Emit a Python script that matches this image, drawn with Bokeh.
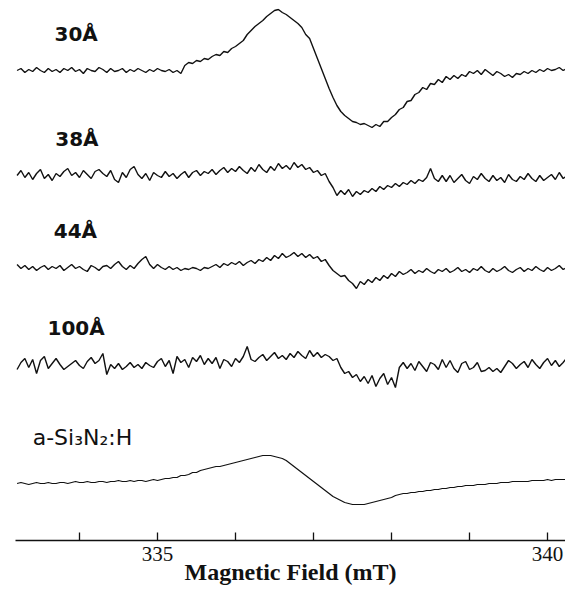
import numpy as np
from bokeh.plotting import figure
from bokeh.models import Range1d, FixedTicker, Label
from bokeh.embed import file_html
from bokeh.resources import INLINE

# ---- data (signal deviation from each trace's baseline, arbitrary units) ----
FIELD_START = 333.20   # mT
FIELD_STEP = 0.05      # mT sampling

labels = ["30Å", "38Å", "44Å", "100Å", "a-Si₃N₂:H"]
baselines = [470, 365, 273, 175, 58]

t30 = [0, 2, -2, 1, -1, 3, 0, -2, 2, -1,
       1, -2, 2, 0, 3, -1, 1, -3, 2, 0,
       -1, 3, 1, -2, 2, -1, 0, 2, -2, 1,
       -1, 2, 0, -2, 1, -1, 2, 0, -1, 1,
       -2, 0, -3, 5, 8, 7, 10, 9, 12, 11,
       14, 16, 15, 19, 18, 22, 24, 27, 30, 36,
       40, 44, 47, 50, 54, 57, 60, 61, 58, 56,
       53, 50, 47, 43, 36, 32, 22, 12, 2, -8,
       -18, -27, -35, -41, -45, -48, -51, -52, -54, -53,
       -55, -57, -54, -56, -51, -51, -47, -44, -39, -37,
       -31, -30, -24, -22, -17, -19, -13, -14, -9, -12,
       -6, -9, -5, -8, -4, -6, -1, -3, 0, -4,
       1, -2, -5, -1, -3, -6, -4, -7, -3, -4,
       -1, -3, 0, -2, 1, -1, 2, 0, 1, 3,
       0, 2, 1, 0]

t38 = [0, 5, -2, 3, -4, 2, 6, -3, 1, -5,
       2, -1, 4, 7, 0, 3, -2, 5, 1, -3,
       4, 6, 2, -1, 5, -4, -7, 3, -2, 6,
       9, 1, -3, 2, -5, 3, 0, -2, 4, -1,
       2, -3, 1, 4, -2, 3, 5, 0, 4, 2,
       6, 1, 5, 8, 3, 7, 4, 9, 5, 2,
       8, 4, 11, 6, 3, 9, 5, 12, 7, 10,
       6, 13, 8, 11, 6, 8, 3, 5, 0, 2,
       -6, -12, -20, -15, -19, -14, -21, -16, -19, -15,
       -17, -13, -16, -11, -14, -10, -12, -8, -11, -7,
       -9, -5, -8, -4, -6, -2, 7, -3, -6, 0,
       -6, 0, -7, -3, 1, -5, -8, -1, -4, 2,
       -3, -6, 0, -5, -2, -7, 1, -4, -6, -1,
       -4, 2, -3, -6, 0, -5, -2, 1, -4, 3,
       -3, 0, -5, -1]

t44 = [3, -1, 2, -2, 1, -3, 0, 2, -2, 1,
       -1, 2, -3, 0, 3, -1, 1, -2, -4, 2,
       0, -3, 1, 2, -1, 3, 6, 1, -2, 2,
       -1, 4, 8, 11, 3, -1, 3, 0, -2, 1,
       -2, 0, -3, -1, -2, 0, -1, -3, 0, -1,
       1, 3, 0, 4, 2, 5, 3, 6, 2, 5,
       7, 4, 8, 6, 10, 7, 12, 9, 14, 10,
       12, 15, 11, 14, 10, 13, 9, 11, 6, 8,
       2, -3, -6, -9, -8, -13, -16, -21, -14, -17,
       -12, -15, -10, -13, -8, -11, -6, -9, -4, -7,
       -5, -2, -6, -3, -5, -1, -4, -6, -2, -4,
       -1, -5, -3, 0, -4, -2, -5, -1, -3, 1,
       -3, -5, -1, -4, -2, 1, -3, -5, -2, 0,
       -4, -1, -3, 1, -2, -4, 0, -3, -1, 2,
       -2, 0, -3, -1]

t100 = [-4, 3, 7, -2, 6, -8, 5, 9, -3, 2,
        7, 1, -4, -1, 2, 5, 0, -3, 4, 8,
        2, 5, 12, -9, 1, -3, 2, -4, -1, 3,
        -2, 1, -3, 3, 0, -2, 4, 7, -1, 5,
        -8, 9, 3, 6, -2, 8, 4, 10, 1, 7,
        2, 8, -3, 6, 4, -1, 7, 3, 9, 19,
        6, 4, 8, 11, 5, 9, 13, 7, 10, 6,
        12, 8, 14, 10, 7, 15, 9, 13, 8, 11,
        9, 5, 7, -2, -8, -6, -12, -9, -16, -11,
        -18, -10, -21, -13, -8, -19, -12, -22, -2, 3,
        -3, 2, -5, 4, -1, -6, 3, 1, -4, 6,
        -2, 5, -3, -7, 2, 4, -4, -2, 3, -6,
        -5, -2, -6, -3, -7, -1, 5, 2, -3, 1,
        4, -2, 6, 1, -3, 3, 7, 0, 5, -1,
        3, 8, -6, 2]

tsin = [-1, 0, -1, -2, -1, 0, -1, -1, 0, -1,
        -1, 0, 0, -1, 0, 1, 0, 0, 1, 0,
        0, 1, 1, 0, 1, 1, 2, 1, 1, 2,
        1, 2, 2, 1, 2, 3, 2, 3, 4, 4,
        5, 5, 7, 7, 8, 10, 10, 12, 13, 14,
        15, 16, 16, 17, 18, 19, 20, 21, 22, 23,
        24, 25, 26, 27, 27, 27, 26, 25, 24, 22,
        19, 16, 13, 10, 7, 4, 1, -2, -5, -8,
        -11, -14, -16, -18, -20, -21, -22, -22, -22, -22,
        -21, -20, -19, -18, -17, -16, -15, -13, -12, -11,
        -11, -10, -10, -9, -9, -8, -8, -7, -7, -6,
        -6, -5, -5, -4, -4, -3, -3, -3, -2, -2,
        -2, -1, -1, -1, 0, 0, 0, 1, 1, 1,
        1, 1, 2, 2, 2, 2, 3, 2, 3, 3,
        3, 3, 3, 3]

traces = [t30, t38, t44, t100, tsin]

tick_values = [334, 335, 336, 337, 338, 339, 340]
tick_labels = {334: "", 335: "335", 336: "", 337: "", 338: "", 339: "", 340: "340"}

# ---- figure ----
p = figure(width=565, height=592, output_backend="svg", toolbar_location=None,
           x_range=Range1d(333.18, 340.23), y_range=Range1d(0, 532),
           min_border_left=15, min_border_right=0, min_border_top=8,
           min_border_bottom=52)
p.xgrid.visible = False
p.ygrid.visible = False
p.yaxis.visible = False
p.outline_line_color = None
p.background_fill_color = "white"

for k, vals in enumerate(traces):
    x = FIELD_START + FIELD_STEP * np.arange(len(vals))
    y = baselines[k] + np.asarray(vals, dtype=float)
    p.line(x, y, line_color="#111111", line_width=1.4 if k < 4 else 1.2)

# trace labels
label_pos = [(333.68, 507), (333.69, 402), (333.67, 310), (333.59, 213), (333.40, 103)]
for k, (lx, ly) in enumerate(label_pos):
    bold = k < 4
    p.add_layout(Label(x=lx, y=ly, text=labels[k], text_align="left",
                       text_baseline="middle", text_font="DejaVu Sans",
                       text_font_size="20px" if bold else "22px",
                       text_font_style="bold" if bold else "normal",
                       text_color="#111111"))

ax = p.xaxis[0]
ax.ticker = FixedTicker(ticks=tick_values)
ax.major_label_overrides = tick_labels
ax.minor_tick_line_color = None
ax.major_tick_in = 8
ax.major_tick_out = 0
ax.major_tick_line_width = 1.3
ax.major_tick_line_color = "#111111"
ax.axis_line_width = 1.3
ax.axis_line_color = "#111111"
ax.major_label_text_font = "Liberation Serif"
ax.major_label_text_font_size = "21px"
ax.major_label_text_color = "#111111"
ax.major_label_standoff = 6
ax.axis_label = "Magnetic Field (mT)"
ax.axis_label_text_font = "Liberation Serif"
ax.axis_label_text_font_size = "24px"
ax.axis_label_text_font_style = "bold"
ax.axis_label_text_color = "#111111"
ax.axis_label_standoff = -5

open("out.html", "w").write(file_html(p, INLINE))
